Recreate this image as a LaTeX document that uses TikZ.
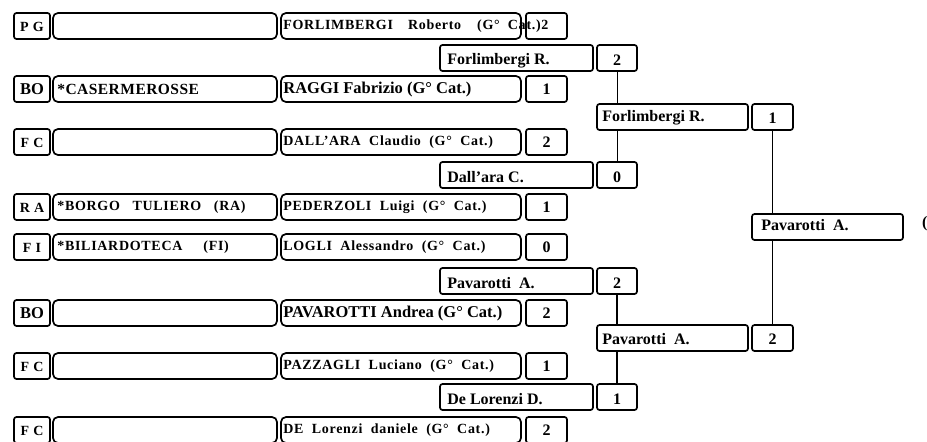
\documentclass[tikz,border=0pt]{standalone}
\usepackage{fontspec}
\setmainfont{Liberation Serif}
\begin{document}
\begin{tikzpicture}[x=1pt,y=-1pt,
  bx/.style={draw,line width=1.7pt,rounded corners=2.5pt,minimum height=26pt,inner sep=0pt},
  tx/.style={anchor=west,inner sep=0pt,font=\bfseries\fontsize{16.5}{16}\selectfont},
  sp/.style={anchor=west,inner sep=0pt,font=\bfseries\fontsize{14}{14}\selectfont\addfontfeature{LetterSpace=5}},
  cl/.style={anchor=west,inner sep=0pt,font=\bfseries\fontsize{15.5}{16}\selectfont\addfontfeature{LetterSpace=3}},
  nmt/.style={anchor=west,inner sep=0pt,font=\bfseries\fontsize{16}{16}\selectfont},
  num/.style={inner sep=0pt,font=\bfseries\fontsize{16}{16}\selectfont},
  conn/.style={line width=1pt},
  connb/.style={line width=1.8pt}]
\useasboundingbox (0,0) rectangle (927,442);
% first round rows: i / y / code / code style / club / club style / player / player style / score
\foreach \i/\y/\code/\cs/\club/\ks/\pl/\st/\sc in {
  1/26/{P G}/sp/{}/cl/{FORLIMBERGI\hspace{15pt}Roberto\hspace{16pt}(G°\hspace{8pt}Ca\hspace{1pt}t.)2}/sp/{},
  2/89/{BO}/tx/{*CASERMEROSSE}/cl/{RAGGI Fabrizio (G° Cat.)}/tx/1,
  3/142/{F C}/sp/{}/cl/{DALL’ARA\ \ Claudio\ \ (G°\ \ Cat.)}/sp/2,
  4/207/{R A}/sp/{*BORGO\ \ \ TULIERO\ \ \ (RA)}/sp/{PEDERZOLI\ \ Luigi\ \ (G°\ \ Cat.)}/sp/1,
  5/247/{F I}/sp/{*BILIARDOTECA\ \ \ \ \ (FI)}/sp/{LOGLI\ \ Alessandro\ \ (G°\ \ Cat.)}/sp/0,
  6/313/{BO}/tx/{}/cl/{PAVAROTTI Andrea (G° Cat.)}/tx/2,
  7/366/{F C}/sp/{}/cl/{PAZZAGLI\ \ Luciano\ \ (G°\ \ Cat.)}/sp/1,
  8/430/{F C}/sp/{}/cl/{DE\ \ Lorenzi\ \ daniele\ \ (G°\ \ Cat.)}/sp/2} {
  \node[bx,minimum width=36pt] (code\i) at (32,\y) {};
  \node[\cs,anchor=center] (codet\i) at ([yshift=-0.5pt]code\i.center) {\code};
  \node[bx,minimum width=224pt,rounded corners=5pt] (club\i) at (165,\y) {};
  \node[\ks] (clubt\i) at ([xshift=5pt,yshift=-0.5pt]club\i.west) {\club};
  \node[bx,minimum width=240pt,rounded corners=5pt] (pl\i) at (401,\y) {};
  \node[\st] (plt\i) at ([xshift=3pt,yshift=-0.5pt]pl\i.west) {\pl};
  \node[bx,minimum width=41pt] (sc\i) at (546.5,\y) {};
  \node[num] (sct\i) at ([yshift=-0.5pt]sc\i.center) {\sc};
}
% second round
\foreach \i/\y/\nm/\sc in {1/58/{Forlimbergi R.}/2, 2/175/{Dall’ara C.}/0, 3/281/{Pavarotti\ \ A.}/2, 4/397/{De Lorenzi D.}/1} {
  \node[bx,minimum width=153pt] (rb\i) at (516.5,\y) {};
  \node[nmt] (rbt\i) at ([xshift=8pt,yshift=-2.5pt]rb\i.west) {\nm};
  \node[bx,minimum width=40pt] (rs\i) at (617,\y) {};
  \node[num] (rst\i) at ([yshift=-2.5pt]rs\i.center) {\sc};
}
% third round
\foreach \i/\y/\nm/\sc in {1/117/{Forlimbergi R.}/1, 2/338/{Pavarotti\ \ A.}/2} {
  \node[bx,minimum width=151pt] (tb\i) at (672.5,\y) {};
  \node[nmt] (tbt\i) at ([xshift=6pt,yshift=-1pt]tb\i.west) {\nm};
  \node[bx,minimum width=41pt] (ts\i) at (772.5,\y) {};
  \node[num] (tst\i) at ([yshift=-1pt]ts\i.center) {\sc};
}
% final
\node[bx,minimum width=151pt] (fin) at (827.5,227) {};
\node[nmt] (fint) at ([xshift=10pt,yshift=2pt]fin.west) {Pavarotti\ \ A.};
\node[nmt] (cut) at (922,224) {(};
% connectors
\draw[conn] (rs1.south) -- (rs1.south |- tb1.north);
\draw[conn] (rs2.north) -- (rs2.north |- tb1.south);
\draw[connb] (rs3.south) -- (rs3.south |- tb2.north);
\draw[connb] (rs4.north) -- (rs4.north |- tb2.south);
\draw[conn] (ts1.south) -- (ts1.south |- fin.north);
\draw[connb] (ts2.north) -- (ts2.north |- fin.south);
\end{tikzpicture}
\end{document}
